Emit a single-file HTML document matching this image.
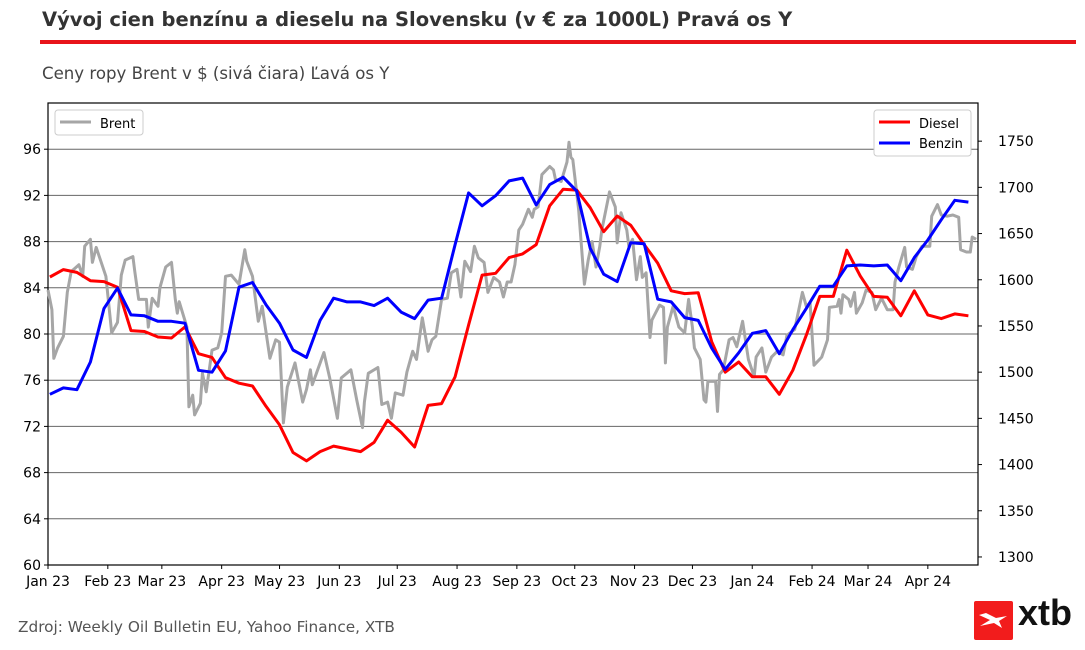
<!DOCTYPE html>
<html><head><meta charset="utf-8">
<style>
html,body{margin:0;padding:0;background:#fff;width:1085px;height:650px;overflow:hidden;font-family:"DejaVu Sans","Liberation Sans",sans-serif;}
#title{position:absolute;left:42px;top:8px;font-size:19.5px;font-weight:bold;color:#333;white-space:nowrap;}
#rule{position:absolute;left:40px;top:40px;width:1036px;height:4px;background:#e8141a;}
#subtitle{position:absolute;left:42px;top:64px;font-size:16.6px;color:#444;white-space:nowrap;}
#source{position:absolute;left:18px;top:618px;font-size:15.3px;color:#555;white-space:nowrap;}
#logo-box{position:absolute;left:974px;top:601px;width:39px;height:39px;background:#f21c1c;border-radius:2px;}
#logo-text{position:absolute;left:1018px;top:592px;font-size:36px;font-weight:bold;color:#111;font-family:"Liberation Sans",sans-serif;letter-spacing:0px;}
svg{position:absolute;left:0;top:0;}
</style></head><body>
<div id="title">Vývoj cien benzínu a dieselu na Slovensku (v € za 1000L) Pravá os Y</div>
<div id="rule"></div>
<div id="subtitle">Ceny ropy Brent v $ (sivá čiara) Ľavá os Y</div>
<div id="source">Zdroj: Weekly Oil Bulletin EU, Yahoo Finance, XTB</div>
<div id="logo-box">
<svg width="39" height="39" viewBox="0 0 39 39"><path d="M5 14 L16 19 L6 25 L20 22 L28 27 L25 20 L33 15 L22 17 L12 12 Z" fill="#fff"/></svg>
</div>
<div id="logo-text">xtb</div>
<svg id="chart" width="1085" height="650"></svg>
<script>
// Weekly fuel prices (EUR per 1000L), starting 2023-01-02
const startDate = "2023-01-02";
const dieselValues = [1603,1611,1608,1599,1598,1592,1545,1544,1538,1537,1549,1520,1516,1494,1488,1485,1463,1443,1413,1404,1414,1420,1417,1414,1424,1448,1435,1419,1464,1466,1495,1551,1605,1607,1624,1628,1638,1680,1698,1697,1678,1652,1669,1659,1638,1618,1588,1585,1586,1533,1500,1511,1495,1495,1476,1502,1540,1582,1582,1632,1604,1582,1581,1561,1588,1562,1558,1563,1561];
const benzinValues = [1476,1483,1481,1511,1569,1591,1562,1561,1555,1555,1553,1502,1500,1523,1592,1597,1573,1553,1524,1516,1556,1580,1576,1576,1572,1580,1565,1558,1578,1580,1638,1694,1680,1691,1707,1710,1681,1703,1711,1696,1634,1606,1598,1640,1639,1579,1576,1559,1556,1526,1503,1521,1542,1545,1520,1546,1569,1593,1593,1615,1616,1615,1616,1599,1624,1643,1665,1686,1684];
// Brent (USD) — day offset from 2023-01-01 and price
const brentDays = [0,2,3,5,8,10,12,16,18,19,22,23,25,30,33,36,38,40,44,45,47,51,52,54,57,58,61,64,66,67,68,72,73,75,76,79,80,82,85,88,90,92,95,99,102,103,106,109,111,115,118,120,122,124,128,132,134,136,137,143,146,150,152,157,160,163,164,166,171,173,176,178,180,184,186,189,191,194,197,199,201,204,207,209,212,214,216,219,221,223,226,228,231,234,236,238,240,242,244,246,249,251,252,254,256,260,262,263,266,269,270,271,272,275,278,280,282,284,286,287,291,294,295,297,300,301,303,305,307,308,310,312,313,317,319,320,321,324,327,330,332,334,335,338,340,341,342,346,347,348,350,353,355,357,360,363,366,367,370,372,375,378,381,383,387,391,393,395,397,401,404,405,409,410,411,412,415,416,418,419,422,424,427,429,432,435,438,439,441,444,445,448,450,453,457,458,461,463,466,469,472,473,476,478,479,481];
const brentValues = [83.8,82.1,77.9,78.8,79.8,83.6,85.4,86.0,85.0,87.6,88.2,86.2,87.5,85.0,80.1,81.0,85.1,86.4,86.7,85.4,83.0,83.0,80.6,83.1,82.4,84.0,85.8,86.2,83.0,81.8,82.8,80.6,73.7,74.7,73.0,74.0,76.6,75.0,78.6,78.8,80.1,85.0,85.1,84.3,87.3,86.3,85.0,81.1,82.4,77.9,79.5,79.3,72.3,75.4,77.5,74.1,75.2,76.9,75.6,78.4,76.2,72.7,76.2,76.9,74.3,71.9,74.1,76.6,77.1,73.9,74.1,72.7,74.9,74.7,76.7,78.5,77.8,81.4,78.5,79.5,79.8,83.0,83.1,85.3,85.6,83.2,86.3,85.4,87.6,86.6,86.2,83.6,84.9,84.5,83.2,84.5,84.5,86.0,89.0,89.5,90.8,90.1,90.8,91.0,93.8,94.5,94.2,93.4,93.2,94.9,96.6,95.3,95.1,90.8,84.3,86.4,88.0,85.8,87.6,89.0,92.3,91.0,87.9,90.5,89.0,87.6,88.2,84.7,86.7,84.9,85.3,79.7,81.2,82.5,82.3,77.5,80.6,82.4,80.6,80.1,83.0,80.6,78.8,77.8,74.3,74.1,75.9,75.9,73.3,76.5,76.9,79.5,79.7,78.9,81.1,77.8,76.3,78.0,78.8,76.7,78.0,78.5,78.2,79.9,80.4,83.6,82.4,82.7,77.3,78.0,79.5,82.3,82.4,83.0,81.8,83.4,83.0,82.4,83.6,81.8,82.7,83.8,83.6,82.1,83.1,82.1,82.1,84.5,85.8,87.5,85.8,85.6,86.7,87.6,87.6,90.2,91.2,90.3,90.2,90.3,90.1,87.3,87.1,87.1,88.4,88.2];
const leftTicks = [60,64,68,72,76,80,84,88,92,96];
const rightTicks = [1300,1350,1400,1450,1500,1550,1600,1650,1700,1750];
const monthLabels = ["Jan 23","Feb 23","Mar 23","Apr 23","May 23","Jun 23","Jul 23","Aug 23","Sep 23","Oct 23","Nov 23","Dec 23","Jan 24","Feb 24","Mar 24","Apr 24"];

const NS="http://www.w3.org/2000/svg";
const svg=document.getElementById('chart');
const L=48,R=978,T=103,B=565;
const day0=Date.UTC(2023,0,1);
const dayEnd=482;
function xDay(d){return L+(R-L)*d/dayEnd;}
function yLeft(v){return B-(v-60)/(100-60)*(B-T);}
function yRight(v){return B-(v-1291.3)/(1791.3-1291.3)*(B-T);}
function mk(tag,attrs,parent){const e=document.createElementNS(NS,tag);for(const k in attrs)e.setAttribute(k,attrs[k]);(parent||svg).appendChild(e);return e;}

leftTicks.forEach(t=>{
  if(t===60)return;
  const g=mk('line',{x1:L,x2:R,y1:yLeft(t),y2:yLeft(t),stroke:'#666','stroke-width':1});
  
  
});
const fr=mk('rect',{x:L,y:T,width:R-L,height:B-T,fill:'none',stroke:'#000','stroke-width':1.2});



leftTicks.forEach(t=>{
  const y=yLeft(t);
  mk('line',{x1:L-4,x2:L,y1:y,y2:y,stroke:'#000'});
  const tx=mk('text',{x:L-7,y:y+5,'text-anchor':'end','font-size':14,fill:'#000'});
  tx.textContent=t;
  
  
});
rightTicks.forEach(t=>{
  const y=yRight(t);
  mk('line',{x1:R,x2:R+4,y1:y,y2:y,stroke:'#000'});
  const tx=mk('text',{x:R+20,y:y+5,'text-anchor':'start','font-size':14,fill:'#000'});
  tx.textContent=t;
  
  
});
monthLabels.forEach((m,i)=>{
  const d=(Date.UTC(2023,i,1)-day0)/86400000;
  const x=xDay(d);
  mk('line',{x1:x,x2:x,y1:B,y2:B+4,stroke:'#000'});
  const tx=mk('text',{x:x,y:B+21,'text-anchor':'middle','font-size':14,fill:'#000'});
  tx.textContent=m;
  
  
});

function weekDay(i){const s=new Date(startDate+"T00:00:00Z");return (s.getTime()-day0)/86400000+7*i;}
function pathFrom(xs,ys){return xs.map((x,i)=>(i?'L':'M')+x.toFixed(1)+' '+ys[i].toFixed(1)).join(' ');}

const brent=mk('path',{d:pathFrom(brentDays.map(xDay),brentValues.map(yLeft)),fill:'none',stroke:'#a6a6a6','stroke-width':3,'stroke-linejoin':'round'});


const diesel=mk('path',{d:pathFrom(dieselValues.map((v,i)=>xDay(weekDay(i))),dieselValues.map(yRight)),fill:'none',stroke:'#ff0000','stroke-width':3,'stroke-linejoin':'round'});


const benzin=mk('path',{d:pathFrom(benzinValues.map((v,i)=>xDay(weekDay(i))),benzinValues.map(yRight)),fill:'none',stroke:'#0000ff','stroke-width':3,'stroke-linejoin':'round'});



const lg1=mk('g',{});


mk('rect',{x:55,y:110,width:88,height:25,rx:3,fill:'#fff',stroke:'#ccc'},lg1);
mk('line',{x1:60,x2:91,y1:122,y2:122,stroke:'#a6a6a6','stroke-width':3},lg1);
const t1=mk('text',{x:100,y:128,'font-size':13,fill:'#000'},lg1);t1.textContent='Brent';

const lg2=mk('g',{});


mk('rect',{x:874,y:110,width:97,height:46,rx:3,fill:'#fff',stroke:'#ccc'},lg2);
mk('line',{x1:879,x2:910,y1:122,y2:122,stroke:'#ff0000','stroke-width':3},lg2);
const t2=mk('text',{x:919,y:128,'font-size':13,fill:'#000'},lg2);t2.textContent='Diesel';
mk('line',{x1:879,x2:910,y1:143,y2:143,stroke:'#0000ff','stroke-width':3},lg2);
const t3=mk('text',{x:919,y:148,'font-size':13,fill:'#000'},lg2);t3.textContent='Benzin';
</script>
</body></html>
